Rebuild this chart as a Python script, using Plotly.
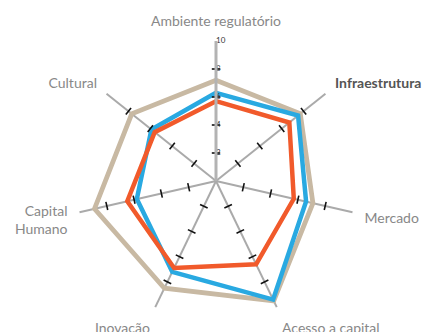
import plotly.graph_objects as go

categories = ["Ambiente regulatório", "Infraestrutura", "Mercado", "Acesso a capital",
              "Inovação", "Capital<br>Humano", "Cultural"]
serie_bege = [7.2, 7.7, 7.1, 9.5, 8.5, 8.9, 7.7]
serie_azul = [6.3, 7.5, 6.6, 9.4, 7.2, 5.8, 5.9]
serie_laranja = [5.7, 6.7, 5.7, 6.6, 6.9, 6.5, 5.6]
radial_ticks = [2, 4, 6, 8, 10]
spoke_ticks = [2, 4, 6, 8]

def closed(v):
    return list(v) + [v[0]]

fig = go.Figure()
for vals, col, w in [(serie_bege, "#C8B9A3", 4.8), (serie_azul, "#29A9E1", 4.5), (serie_laranja, "#F15A2B", 4.5)]:
    fig.add_trace(go.Scatterpolar(r=closed(vals), theta=closed(categories), mode="lines",
                                  line=dict(color=col, width=w), showlegend=False, hoverinfo="skip"))

n = len(categories)
tr, tt, ta = [], [], []
for i, c in enumerate(categories):
    screen = 90 - i * 360 / n
    for v in spoke_ticks:
        tr.append(v); tt.append(c); ta.append(-screen)
fig.add_trace(go.Scatterpolar(r=tr, theta=tt, mode="markers",
                              marker=dict(symbol="line-ns", size=6, angle=ta,
                                          line=dict(color="#111111", width=1.6)),
                              showlegend=False, hoverinfo="skip"))

# radial tick labels along the first (top) spoke
fig.add_trace(go.Scatterpolar(r=radial_ticks, theta=[categories[0]] * len(radial_ticks),
                              mode="text", text=[str(v) for v in radial_ticks],
                              textposition="middle right",
                              textfont=dict(size=8, color="#333333", family="Lato, sans-serif"),
                              showlegend=False, hoverinfo="skip"))

ticktext = [('<b><span style="color:#555555">' + c + '</span></b>') if c == "Infraestrutura" else c for c in categories]

fig.update_layout(
    width=435, height=332,
    margin=dict(l=68, r=87, t=33, b=19),
    paper_bgcolor="white", plot_bgcolor="white",
    font=dict(family="Lato, sans-serif", color="#888888", size=14),
    polar=dict(
        bgcolor="white",
        radialaxis=dict(range=[0, 10], angle=90, tickvals=radial_ticks, ticks="",
                        showticklabels=False,
                        showgrid=False, showline=True, linecolor="#B3B3B3", linewidth=3),
        angularaxis=dict(type="category", direction="clockwise", rotation=90,
                         tickvals=categories, ticktext=ticktext,
                         showline=False, gridcolor="#AAAAAA", gridwidth=2,
                         ticks="outside", ticklen=9, tickcolor="rgba(0,0,0,0)",
                         tickfont=dict(size=14, color="#888888")),
    ),
)
fig.write_html("out.html")
